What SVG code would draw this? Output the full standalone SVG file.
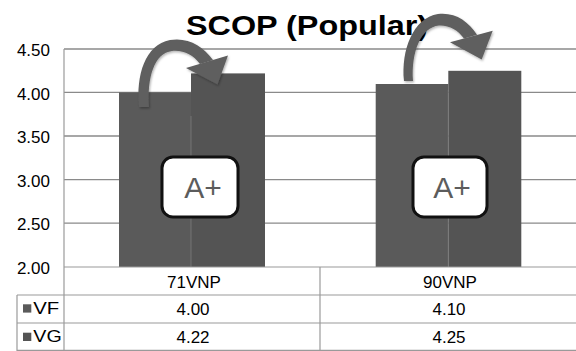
<svg xmlns="http://www.w3.org/2000/svg" width="576" height="351" viewBox="0 0 576 351">
  <style>
    text { font-family: "Liberation Sans", Arial, Helvetica, sans-serif; fill: #000; }
    .grid { stroke: #8a8a8a; stroke-width: 1.3; fill: none; }
    .tbl { stroke: #9a9a9a; stroke-width: 1.2; fill: none; }
    .ylab { font-size: 17px; text-anchor: end; }
    .cell { font-size: 17px; text-anchor: middle; }
    .leg { font-size: 17px; }
    .vf { fill: #5a5a5a; }
    .vg { fill: #545454; }
    .seam { stroke: #7c7c7c; stroke-width: 0.8; }
    .badge rect { fill: #fff; stroke: #111; stroke-width: 3; }
    .badge text { font-size: 30px; fill: #5c5c5c; text-anchor: middle; }
    .arrow { fill: #5e5e5e; filter: url(#soft); }
  </style>
  <defs>
    <filter id="soft" x="-20%" y="-20%" width="140%" height="140%">
      <feDropShadow dx="1" dy="1.5" stdDeviation="1.2" flood-color="#000" flood-opacity="0.3"/>
    </filter>
  </defs>

  <rect width="576" height="351" fill="#fff"/>

  <!-- value gridlines -->
  <g id="gridlines">
    <line class="grid" x1="64" y1="49" x2="576" y2="49"/>
    <line class="grid" x1="64" y1="92.4" x2="576" y2="92.4"/>
    <line class="grid" x1="64" y1="136" x2="576" y2="136"/>
    <line class="grid" x1="64" y1="179.6" x2="576" y2="179.6"/>
    <line class="grid" x1="64" y1="223.2" x2="576" y2="223.2"/>
  </g>

  <!-- value axis labels -->
  <g id="y-axis">
    <text class="ylab" x="50" y="56">4.50</text>
    <text class="ylab" x="50" y="99.5">4.00</text>
    <text class="ylab" x="50" y="143">3.50</text>
    <text class="ylab" x="50" y="186.7">3.00</text>
    <text class="ylab" x="50" y="230.3">2.50</text>
    <text class="ylab" x="50" y="274">2.00</text>
  </g>

  <!-- bars -->
  <g id="bars-71VNP">
    <rect class="vf" x="119" y="92.4" width="72" height="174.6"/>
    <rect class="vg" x="191" y="73.4" width="74" height="193.6"/>
    <line class="seam" x1="191" y1="116" x2="191" y2="267"/>
  </g>
  <g id="bars-90VNP">
    <rect class="vf" x="375.7" y="84" width="72.6" height="183"/>
    <rect class="vg" x="448.3" y="70.8" width="73" height="196.2"/>
    <line class="seam" x1="448.3" y1="90" x2="448.3" y2="267"/>
  </g>

  <!-- title -->
  <text id="title" x="307" y="35" font-size="28" font-weight="bold" text-anchor="middle" textLength="242" lengthAdjust="spacingAndGlyphs">SCOP (Popular)</text>

  <!-- data table -->
  <g id="data-table">
    <line class="tbl" x1="64" y1="267" x2="576" y2="267"/>
    <line class="tbl" x1="17" y1="295" x2="576" y2="295"/>
    <line class="tbl" x1="17" y1="323" x2="576" y2="323"/>
    <line class="tbl" x1="17" y1="350.4" x2="576" y2="350.4"/>
    <line class="tbl" x1="64" y1="49" x2="64" y2="351"/>
    <line class="tbl" x1="17" y1="295" x2="17" y2="351"/>
    <line class="tbl" x1="320" y1="267" x2="320" y2="351"/>

    <text class="cell" x="194" y="288">71VNP</text>
    <text class="cell" x="450" y="288">90VNP</text>

    <rect class="vf" x="23" y="304.3" width="8.3" height="8.3"/>
    <text class="leg" x="33.3" y="313.5" textLength="26" lengthAdjust="spacingAndGlyphs">VF</text>
    <text class="cell" x="193" y="315">4.00</text>
    <text class="cell" x="449" y="315">4.10</text>

    <rect class="vg" x="23" y="332.7" width="8.3" height="8.3"/>
    <text class="leg" x="33.3" y="341.7" textLength="28.4" lengthAdjust="spacingAndGlyphs">VG</text>
    <text class="cell" x="193" y="343">4.22</text>
    <text class="cell" x="449" y="343">4.25</text>
  </g>

  <!-- rating badges -->
  <g id="badge-71VNP" class="badge">
    <rect x="162" y="157" width="76" height="60" rx="11"/>
    <text x="203" y="198">A+</text>
  </g>
  <g id="badge-90VNP" class="badge">
    <rect x="413" y="157" width="74" height="60" rx="11"/>
    <text x="452" y="198">A+</text>
  </g>

  <!-- curved arrows from VF to VG -->
  <g id="connectors">
    <g id="arrow-71VNP" class="arrow">
      <path d="M139,107 C136,75 145,45 170,40 C188,37 203,46 213,60 L200,64 C193,55 184,50 172,51 C154,53 147,78 149,107 Z"/>
      <polygon points="186,68 228,55.5 217.5,84.5"/>
    </g>
    <g id="arrow-90VNP" class="arrow">
      <path d="M404,81 C401,50 413,18 438,14 C455,12 468,21 477,34.7 L464,38.5 C458,30 449,25 439,25.5 C421,27 411,52 413,81 Z"/>
      <polygon points="450,42.3 492.7,30.8 481.7,59.5"/>
    </g>
  </g>
</svg>
